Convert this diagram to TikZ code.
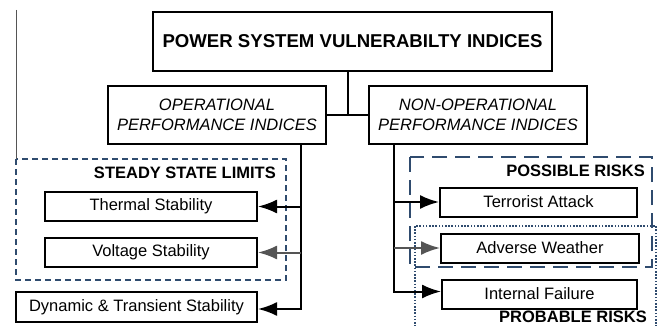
\documentclass[tikz,border=0pt]{standalone}
\usepackage{fontspec}
\setmainfont{Liberation Sans}
\usetikzlibrary{arrows.meta, calc, positioning}
\definecolor{groupblue}{HTML}{2F4B6E}
\definecolor{arrowgrey}{HTML}{555555}
\tikzset{
    titlebox/.style={rectangle, draw=black, line width=2pt, minimum width=399pt, minimum height=59pt, text centered, font=\fontsize{18.6}{22}\selectfont\bfseries},
    category/.style={rectangle, draw=black, line width=2pt, minimum width=218pt, minimum height=58pt, align=center, font=\fontsize{16.5}{20}\selectfont\itshape},
    itembox/.style={rectangle, draw=black, line width=2pt, minimum height=29pt, text centered, font=\fontsize{16.5}{20}\selectfont},
    grouplabel/.style={anchor=east, inner sep=0pt, font=\fontsize{16.5}{20}\selectfont\bfseries},
    steadyline/.style={draw=groupblue, line width=1.8pt, dash pattern=on 6pt off 4pt},
    possibleline/.style={draw=groupblue, line width=1.8pt, dash pattern=on 15pt off 8pt},
    probableline/.style={draw=groupblue, line width=1.8pt, dash pattern=on 1.6pt off 1.6pt},
    link/.style={line width=2pt},
    arrow/.style={line width=2pt, -{Latex[length=19pt,width=14pt]}},
    greyarrow/.style={arrow, draw=arrowgrey, fill=arrowgrey}
}
\begin{document}
\begin{tikzpicture}[x=1pt, y=-1pt, node distance=15pt]
    \clip (0,0) rectangle (664,326);

    % group frames
    \draw[steadyline] (16,159) rectangle (286,280);
    \draw[possibleline] (410,157) rectangle (652,267);
    \draw[probableline] (415,226) rectangle (656,340);
    \draw[arrowgrey, line width=0.9pt] (16,10) -- (16,159);

    \node (top) [titlebox] at (352.5,41.5) {POWER SYSTEM VULNERABILTY INDICES};
    \node (op) [category] at (217,115) {OPERATIONAL\\PERFORMANCE INDICES};
    \node (nop) [category] at (478,115) {NON-OPERATIONAL\\PERFORMANCE INDICES};

    \node (thermal) [itembox, minimum width=212pt] at (151,206.5) {Thermal Stability};
    \node (voltage) [itembox, minimum width=212pt, below=of thermal] {Voltage Stability};
    \node (dynamic) [itembox, minimum width=241pt, minimum height=30pt] at (136.5,307) {Dynamic \& Transient Stability};

    \node (terror) [itembox, minimum width=197pt] at (538.5,202) {Terrorist Attack};
    \node (weather) [itembox, minimum width=198pt, below=of terror, xshift=1.5pt] {Adverse Weather};
    \node (failure) [itembox, minimum width=195pt, below=of weather, xshift=-0.5pt] {Internal Failure};

    \node (steady) [grouplabel] at (276,173) {STEADY STATE LIMITS};
    \node (possible) [grouplabel] at (645,171) {POSSIBLE RISKS};
    \node (probable) [grouplabel] at (647,317) {PROBABLE RISKS};

    % top of the tree
    \coordinate (mid) at ($(op.east)!0.5!(nop.west)$);
    \draw [link] (op.east) -- (nop.west);
    \draw [link] (mid) -- (mid |- top.south);

    % operational branch
    \coordinate (ltrunk) at ([xshift=-26pt]op.south east);
    \draw [arrow] (ltrunk) |- ([yshift=-2pt]dynamic.east);
    \draw [arrow] (ltrunk |- thermal.east) -- (thermal.east);
    \draw [greyarrow] (ltrunk |- voltage.east) -- (voltage.east);

    % non-operational branch
    \coordinate (rtrunk) at ([xshift=26pt]nop.south west);
    \draw [arrow] (rtrunk) |- ([yshift=2.5pt]failure.west);
    \draw [arrow] (rtrunk |- terror.west) -- (terror.west);
    \draw [greyarrow] (rtrunk |- weather.west) -- (weather.west);
\end{tikzpicture}
\end{document}
